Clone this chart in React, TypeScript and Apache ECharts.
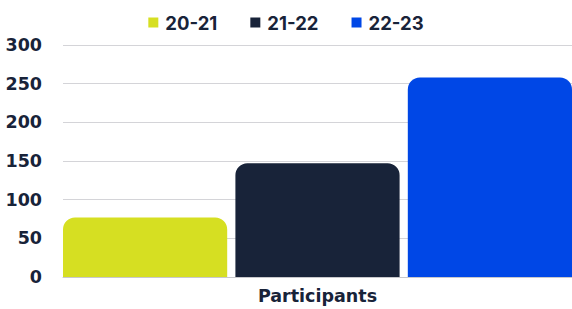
import React, { useEffect, useRef } from "react";
import * as echarts from "echarts";

const categories = ["Participants"];
const seriesNames = ["20-21", "21-22", "22-23"];
const seriesValues = [[77], [147], [258]];
const colors = ["#d6df22", "#182339", "#0047e6"];
const yTicks = { min: 0, max: 300, interval: 50 };

export default function App() {
  const ref = useRef<HTMLDivElement>(null);
  useEffect(() => {
    if (!ref.current) return;
    const chart = echarts.init(ref.current, null, { renderer: "svg" });
    const font = "Inter, 'Open Sans', sans-serif";
    const wide = "'DejaVu Sans', Inter, sans-serif";
    chart.setOption({
      animation: false,
      textStyle: { fontFamily: font },
      legend: {
        top: 8,
        left: "center",
        itemWidth: 10,
        itemHeight: 10,
        itemGap: 33,
        icon: "rect",
        textStyle: { fontFamily: font, fontWeight: 700, fontSize: 18.5, color: "#182339", padding: [0, 0, 0, 2] },
        data: seriesNames,
      },
      grid: { left: 63, right: -2, top: 45, bottom: 32, containLabel: false },
      xAxis: {
        type: "category",
        data: categories,
        axisTick: { show: false },
        axisLine: { lineStyle: { color: "#c8c8cc", width: 1 } },
        axisLabel: { fontFamily: wide, fontWeight: 700, fontSize: 17.5, color: "#182339", margin: 10 },
      },
      yAxis: {
        type: "value",
        min: yTicks.min,
        max: yTicks.max,
        interval: yTicks.interval,
        axisLine: { show: false },
        axisTick: { show: false },
        splitLine: { lineStyle: { color: "#d4d4d8", width: 1 } },
        axisLabel: { fontFamily: wide, fontWeight: 700, fontSize: 17.5, color: "#182339", margin: 21 },
      },
      series: seriesNames.map((name, i) => ({
        name,
        type: "bar",
        data: seriesValues[i],
        barGap: "5%",
        barCategoryGap: 0,
        itemStyle: { color: colors[i], borderRadius: [12, 12, 0, 0] },
      })),
    });
    return () => chart.dispose();
  }, []);
  return <div ref={ref} style={{ width: 572, height: 309, position: "absolute", left: 0, top: 0 }} />;
}
